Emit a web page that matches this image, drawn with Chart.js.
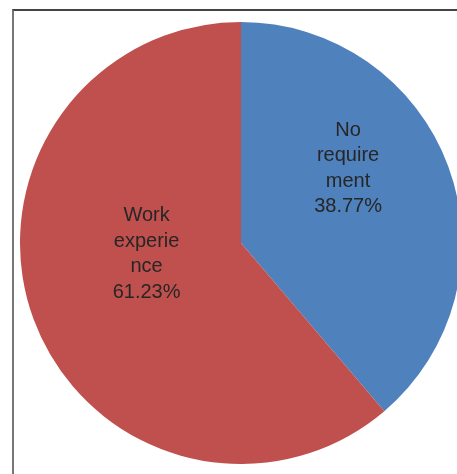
<!DOCTYPE html>
<html>
<head>
<meta charset="utf-8">
<script src="https://cdn.jsdelivr.net/npm/chart.js@4"></script>
<style>
    html, body { margin: 0; padding: 0; background: #fff; overflow: hidden; }
    #frame { position: absolute; left: 12px; top: 9px; width: 470px; height: 490px;
             border-top: 2px solid #444; border-left: 2px solid #777; }
    #wrap { position: absolute; left: 20px; top: 22px; width: 442px; height: 442px; }
</style>
</head>
<body>
<div id="frame"></div>
<div id="wrap"><canvas id="pie"></canvas></div>
<script>
// Datos del gráfico
var categorias = ['No requirement', 'Work experience'];
var etiquetas = [['No', 'require', 'ment'], ['Work', 'experie', 'nce']];
var valores = [38.77, 61.23];

// Etiquetas dentro de cada porción (posición relativa al centro del pie)
var colocacion = [
    { ang: -34.8, dist: 0.59 },
    { ang: 173.5, dist: 0.43 }
];

var etiquetasPlugin = {
    id: 'etiquetas',
    afterDatasetsDraw: function (chart) {
        var ctx = chart.ctx;
        var meta = chart.getDatasetMeta(0);
        ctx.save();
        ctx.font = '20px "Liberation Sans", Arial, sans-serif';
        ctx.fillStyle = '#262626';
        ctx.textAlign = 'center';
        ctx.textBaseline = 'middle';
        meta.data.forEach(function (arco, i) {
            var p = colocacion[i];
            var a = p.ang * Math.PI / 180;
            var cx = arco.x + Math.cos(a) * arco.outerRadius * p.dist;
            var cy = arco.y + Math.sin(a) * arco.outerRadius * p.dist;
            var lineas = etiquetas[i].concat([valores[i].toFixed(2) + '%']);
            var alto = 25.5;
            var y0 = cy - (lineas.length - 1) * alto / 2;
            lineas.forEach(function (t, k) {
                ctx.fillText(t, cx, y0 + k * alto);
            });
        });
        ctx.restore();
    }
};

new Chart(document.getElementById('pie'), {
    type: 'pie',
    data: {
        labels: categorias,
        datasets: [{
            data: valores,
            backgroundColor: ['#4F81BD', '#C0504D'],
            borderWidth: 0
        }]
    },
    options: {
        responsive: true,
        maintainAspectRatio: false,
        animation: false,
        layout: { padding: 0 },
        plugins: {
            legend: { display: false },
            tooltip: { enabled: false }
        }
    },
    plugins: [etiquetasPlugin]
});
</script>
</body>
</html>
